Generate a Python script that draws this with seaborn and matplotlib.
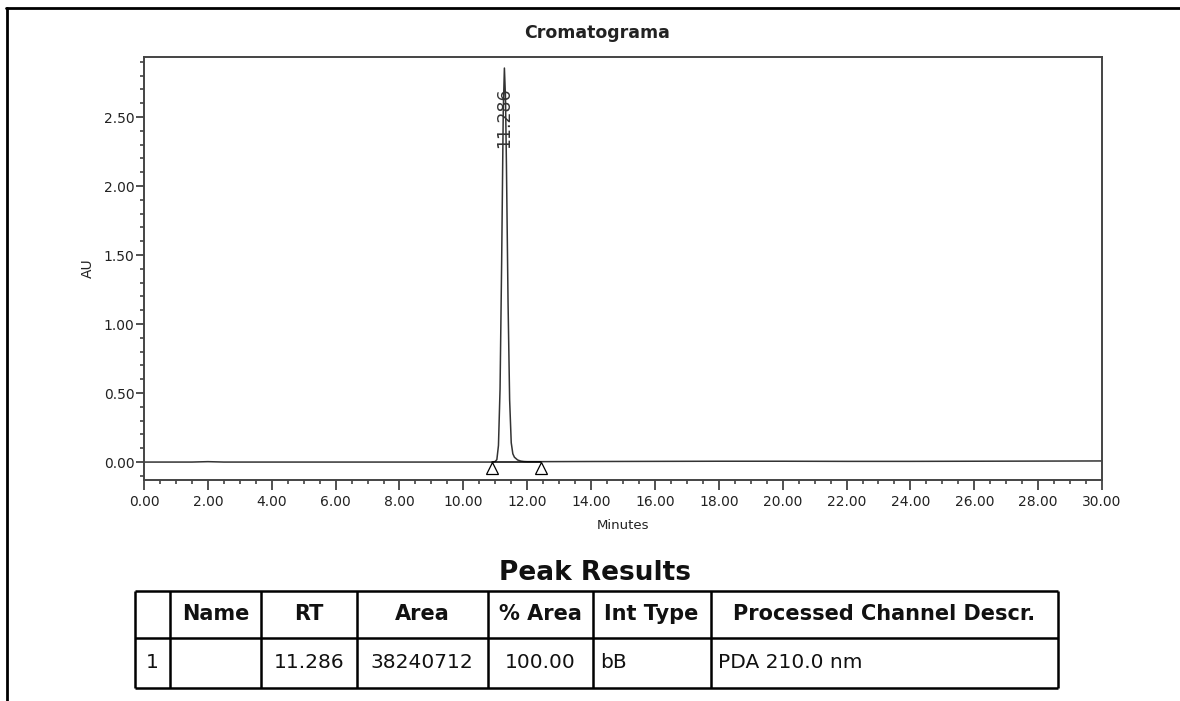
import matplotlib
matplotlib.use("Agg")
import matplotlib.pyplot as plt
from matplotlib.lines import Line2D
from matplotlib.ticker import MultipleLocator, FormatStrFormatter
import numpy as np
import seaborn as sns

# chromatogram trace (minutes, AU)
trace_time = [0.0, 1.5, 2.0, 2.5, 4.0, 6.0, 8.0, 10.0, 10.9, 11.0, 11.05,
              11.1, 11.15, 11.2, 11.25, 11.286, 11.32, 11.35, 11.4, 11.45,
              11.5, 11.55, 11.6, 11.7, 11.8, 11.9, 12.0, 12.43, 14.0, 16.0,
              18.0, 20.0, 22.0, 24.0, 26.0, 28.0, 30.0]
trace_au = [0.0, 0.0, 0.003, 0.0, 0.0, 0.0, 0.0, 0.0, 0.0, 0.004, 0.018,
            0.12, 0.53, 1.45, 2.54, 2.855, 2.64, 2.15, 1.16, 0.45,
            0.14, 0.06, 0.035, 0.015, 0.007, 0.004, 0.003, 0.003, 0.004, 0.005,
            0.006, 0.006, 0.005, 0.005, 0.006, 0.007, 0.008]

peak_rt = 11.286
peak_label_au = 2.275
int_start, int_end = 10.9, 12.43
marker_au = -0.045

table_cols = ["", "Name", "RT", "Area", "% Area", "Int Type",
              "Processed Channel Descr."]
table_row = ["1", "", "11.286", "38240712", "100.00", "bB", "PDA 210.0 nm"]
col_widths = [35, 91, 96, 130.5, 105, 118, 347]
row_align = ["center", "center", "center", "center", "center", "left", "left"]

sns.set_theme(style="white")
plt.rcParams["font.family"] = "DejaVu Sans"

W, H = 1180, 701
fig = plt.figure(figsize=(W / 100, H / 100), dpi=100)
fig.patch.set_facecolor("white")

ax = fig.add_axes([144 / W, 1 - 480 / H, (1102 - 144) / W, (480 - 57) / H])
sns.lineplot(x=trace_time, y=trace_au, ax=ax, color="#333333",
             linewidth=1.1, sort=False)
ax.plot([int_start, int_end], [0, 0], color="black", lw=1.1)
ax.plot([int_start, int_end], [marker_au, marker_au], linestyle="none",
        marker="^", markersize=8, markerfacecolor="white",
        markeredgecolor="black", markeredgewidth=0.9)
ax.text(peak_rt, peak_label_au, f"{peak_rt:.3f}", rotation=90,
        ha="center", va="bottom", fontsize=12.5, color="#333333")

ax.set_xlim(0, 30)
ax.set_ylim(-0.13, 2.935)
ax.xaxis.set_major_locator(MultipleLocator(2))
ax.xaxis.set_minor_locator(MultipleLocator(0.5))
ax.yaxis.set_major_locator(MultipleLocator(0.5))
ax.yaxis.set_minor_locator(MultipleLocator(0.1))
ax.xaxis.set_major_formatter(FormatStrFormatter("%.2f"))
ax.yaxis.set_major_formatter(FormatStrFormatter("%.2f"))
ax.tick_params(axis="both", which="major", direction="out", length=6,
               width=1.2, color="#333333", labelsize=10, labelcolor="#222222")
ax.tick_params(axis="both", which="minor", direction="out", length=3,
               width=1.1, color="#333333")
ax.tick_params(axis="x", which="major", pad=4, length=7)
ax.tick_params(axis="y", which="both", pad=1, left=True)
ax.tick_params(axis="x", which="both", bottom=True)
for sp in ax.spines.values():
    sp.set_color("#444444")
    sp.set_linewidth(1.4)
ax.set_xlabel("Minutes", fontsize=9.5, color="#222222", labelpad=7)
ax.set_ylabel("AU", fontsize=10, color="#222222", labelpad=6)
fig.text(597 / W, 1 - 33 / H, "Cromatograma", ha="center", va="center",
         fontsize=12.5, fontweight="bold", color="#222222")

# page border
fig.add_artist(Line2D([6 / W, 1], [1 - 8 / H, 1 - 8 / H],
                      transform=fig.transFigure, color="black", lw=2))
fig.add_artist(Line2D([7 / W, 7 / W], [0, 1 - 8 / H],
                      transform=fig.transFigure, color="black", lw=2))

# peak results table
fig.text(595 / W, 1 - 573 / H, "Peak Results", ha="center", va="center",
         fontsize=19, fontweight="bold", color="#111111")
tw = sum(col_widths)
tax = fig.add_axes([135 / W, 1 - 688 / H, tw / W, (688 - 591) / H])
tax.set_xlim(0, tw)
tax.set_ylim(0, 97)
tax.axis("off")
edges = np.concatenate([[0], np.cumsum(col_widths)])
tax.vlines(edges, 0, 97, color="black", lw=1.8, clip_on=False)
tax.hlines([0, 50, 97], 0, tw, color="black", lw=1.8, clip_on=False)
for i, (head, val) in enumerate(zip(table_cols, table_row)):
    x0, x1 = edges[i], edges[i + 1]
    tax.text((x0 + x1) / 2, 73.5, head, ha="center", va="center",
             fontsize=15, fontweight="bold", color="#111111")
    if row_align[i] == "left":
        tax.text(x0 + 8, 25, val, ha="left", va="center", fontsize=14.5,
                 color="#111111")
    else:
        tax.text((x0 + x1) / 2, 25, val, ha="center", va="center",
                 fontsize=14.5, color="#111111")

fig.savefig("out.png", dpi=100, facecolor="white")
